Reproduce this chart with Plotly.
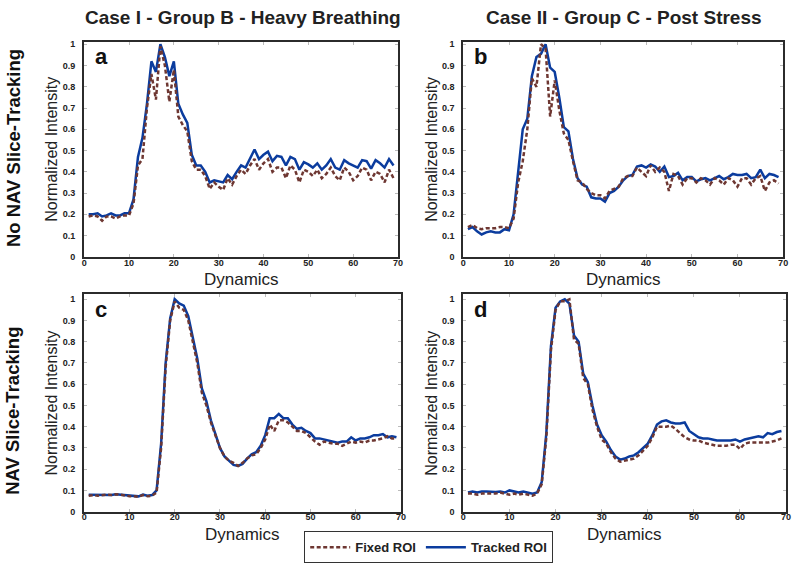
import plotly.graph_objects as go

# dynamics index 1..69
dyn = list(range(1, 70))

# panel a - Case I, no NAV
a_tracked = [0.20, 0.20, 0.205, 0.19, 0.195, 0.205, 0.195, 0.195, 0.205, 0.205,
             0.27, 0.47, 0.56, 0.72, 0.92, 0.87, 1.0, 0.94, 0.85, 0.92,
             0.72, 0.67, 0.63, 0.48, 0.43, 0.43, 0.40, 0.35, 0.36, 0.355,
             0.35, 0.385, 0.365, 0.40, 0.43, 0.42, 0.46, 0.505, 0.46, 0.48,
             0.495, 0.45, 0.475, 0.47, 0.43, 0.47, 0.46, 0.41, 0.445, 0.435,
             0.42, 0.44, 0.41, 0.43, 0.46, 0.42, 0.41, 0.455, 0.44, 0.43,
             0.42, 0.455, 0.45, 0.415, 0.455, 0.44, 0.42, 0.46, 0.43]
a_fixed = [0.19, 0.195, 0.19, 0.17, 0.19, 0.19, 0.18, 0.19, 0.195, 0.195,
           0.25, 0.43, 0.46, 0.70, 0.86, 0.74, 0.99, 0.90, 0.73, 0.88,
           0.66, 0.62, 0.59, 0.45, 0.41, 0.41, 0.38, 0.32, 0.35, 0.33,
           0.315, 0.37, 0.34, 0.38, 0.41, 0.39, 0.43, 0.46, 0.41, 0.44,
           0.46, 0.40, 0.42, 0.42, 0.37, 0.43, 0.41, 0.35, 0.41, 0.40,
           0.38, 0.41, 0.37, 0.39, 0.42, 0.38, 0.36, 0.42, 0.40, 0.36,
           0.38, 0.42, 0.41, 0.36, 0.40, 0.39, 0.35, 0.41, 0.37]

# panel b - Case II, no NAV
b_tracked = [0.13, 0.14, 0.12, 0.105, 0.115, 0.12, 0.115, 0.115, 0.13, 0.125,
             0.20, 0.40, 0.60, 0.65, 0.85, 0.94, 0.955, 1.0, 0.89, 0.87,
             0.75, 0.61, 0.59, 0.46, 0.37, 0.34, 0.33, 0.28, 0.275, 0.275,
             0.26, 0.30, 0.31, 0.33, 0.36, 0.38, 0.385, 0.425, 0.43, 0.42,
             0.435, 0.425, 0.40, 0.425, 0.375, 0.38, 0.395, 0.36, 0.375, 0.375,
             0.355, 0.365, 0.37, 0.36, 0.37, 0.38, 0.365, 0.375, 0.39, 0.385,
             0.385, 0.39, 0.37, 0.375, 0.41, 0.37, 0.39, 0.385, 0.375]
b_fixed = [0.14, 0.15, 0.135, 0.13, 0.135, 0.135, 0.135, 0.14, 0.14, 0.135,
           0.18, 0.35, 0.45, 0.60, 0.84, 0.80, 1.0, 0.98, 0.66, 0.83,
           0.69, 0.58, 0.55, 0.45, 0.36, 0.35, 0.32, 0.30, 0.29, 0.29,
           0.275, 0.31, 0.32, 0.33, 0.37, 0.38, 0.38, 0.42, 0.40, 0.38,
           0.43, 0.40, 0.42, 0.40, 0.31, 0.39, 0.38, 0.34, 0.37, 0.37,
           0.35, 0.37, 0.36, 0.34, 0.37, 0.36, 0.34, 0.37, 0.36, 0.33,
           0.37, 0.37, 0.34, 0.37, 0.38, 0.31, 0.35, 0.36, 0.345]

# panel c - Case I, NAV
c_tracked = [0.08, 0.08, 0.078, 0.08, 0.08, 0.078, 0.082, 0.08, 0.075, 0.075,
             0.073, 0.072, 0.08, 0.075, 0.078, 0.10, 0.32, 0.70, 0.91, 1.0,
             0.98, 0.97, 0.92, 0.82, 0.72, 0.58, 0.52, 0.43, 0.36, 0.30,
             0.26, 0.24, 0.22, 0.215, 0.225, 0.25, 0.27, 0.28, 0.31, 0.36,
             0.44, 0.44, 0.46, 0.44, 0.44, 0.41, 0.39, 0.395, 0.38, 0.37,
             0.345, 0.345, 0.34, 0.335, 0.33, 0.325, 0.33, 0.33, 0.35, 0.335,
             0.345, 0.345, 0.35, 0.36, 0.36, 0.365, 0.35, 0.355, 0.35]
c_fixed = [0.075, 0.078, 0.075, 0.078, 0.08, 0.078, 0.082, 0.08, 0.075, 0.073,
           0.073, 0.07, 0.078, 0.073, 0.075, 0.09, 0.30, 0.68, 0.90, 0.99,
           0.96, 0.95, 0.90, 0.80, 0.70, 0.56, 0.50, 0.42, 0.36, 0.30,
           0.26, 0.24, 0.23, 0.215, 0.23, 0.25, 0.265, 0.27, 0.30, 0.34,
           0.41, 0.38, 0.43, 0.43, 0.42, 0.40, 0.38, 0.38, 0.37, 0.35,
           0.33, 0.315, 0.33, 0.325, 0.32, 0.32, 0.31, 0.32, 0.33, 0.325,
           0.33, 0.325, 0.335, 0.335, 0.34, 0.345, 0.355, 0.345, 0.345]

# panel d - Case II, NAV
d_tracked = [0.09, 0.095, 0.09, 0.095, 0.095, 0.093, 0.093, 0.095, 0.09, 0.10,
             0.095, 0.09, 0.095, 0.09, 0.085, 0.09, 0.14, 0.37, 0.78, 0.96,
             0.99, 1.0, 0.98, 0.83, 0.80, 0.65, 0.61, 0.50, 0.41, 0.36,
             0.33, 0.29, 0.26, 0.245, 0.25, 0.26, 0.265, 0.28, 0.30, 0.32,
             0.36, 0.41, 0.425, 0.43, 0.42, 0.415, 0.415, 0.42, 0.38, 0.365,
             0.35, 0.345, 0.345, 0.34, 0.335, 0.335, 0.335, 0.335, 0.34, 0.33,
             0.34, 0.345, 0.35, 0.355, 0.35, 0.37, 0.365, 0.375, 0.38]
d_fixed = [0.085, 0.085, 0.08, 0.085, 0.085, 0.085, 0.085, 0.09, 0.085, 0.08,
           0.085, 0.08, 0.085, 0.08, 0.075, 0.085, 0.13, 0.35, 0.76, 0.95,
           0.99, 0.99, 1.0, 0.81, 0.79, 0.63, 0.60, 0.48, 0.40, 0.34,
           0.32, 0.28, 0.25, 0.235, 0.24, 0.245, 0.25, 0.265, 0.29, 0.31,
           0.35, 0.40, 0.40, 0.40, 0.405, 0.39, 0.37, 0.35, 0.34, 0.335,
           0.335, 0.325, 0.32, 0.315, 0.31, 0.31, 0.31, 0.315, 0.315, 0.295,
           0.32, 0.325, 0.325, 0.325, 0.325, 0.325, 0.33, 0.335, 0.345]

col_titles = ["Case I - Group B - Heavy Breathing", "Case II - Group C - Post Stress"]
row_titles = ["No NAV Slice-Tracking", "NAV Slice-Tracking"]
letters = ["a", "b", "c", "d"]
x_ticks = [0, 10, 20, 30, 40, 50, 60, 70]
y_ticks = [0, 0.1, 0.2, 0.3, 0.4, 0.5, 0.6, 0.7, 0.8, 0.9, 1]
y_ticktext = ["0", "0.1", "0.2", "0.3", "0.4", "0.5", "0.6", "0.7", "0.8", "0.9", "1"]

W, H = 800, 570
BLUE = "#0b3c9e"
BROWN = "#6e3732"
FONT = "Liberation Sans, Arial, sans-serif"

# pixel boxes of each panel: left, right, top, bottom, y top value
boxes = [(82, 399, 40, 258, 1.013),
         (465, 788, 40, 258, 1.013),
         (82, 402, 296, 516, 1.023),
         (465, 791, 296, 516, 1.023)]
panels = [(a_fixed, a_tracked), (b_fixed, b_tracked),
          (c_fixed, c_tracked), (d_fixed, d_tracked)]

fig = go.Figure()
layout = dict(width=W, height=H, margin=dict(l=0, r=0, t=0, b=0),
              paper_bgcolor="white", plot_bgcolor="white",
              font=dict(family=FONT, color="#222"))
annotations = []

for i, (fixed, tracked) in enumerate(panels):
    n = "" if i == 0 else str(i + 1)
    l, r, t, b, ytop = boxes[i]
    fig.add_trace(go.Scatter(x=dyn, y=tracked, mode="lines", name="Tracked ROI",
                             line=dict(color=BLUE, width=2.5),
                             xaxis="x" + n, yaxis="y" + n,
                             showlegend=(i == 0), legendrank=2))
    fig.add_trace(go.Scatter(x=dyn, y=fixed, mode="lines", name="Fixed ROI",
                             line=dict(color=BROWN, width=2.5, dash="4px,2.5px"),
                             xaxis="x" + n, yaxis="y" + n,
                             showlegend=(i == 0), legendrank=1))
    common = dict(showline=True, linecolor="#2b2b2b", linewidth=2, mirror="ticks",
                  ticks="inside", ticklen=3, tickcolor="#bbb", showgrid=False,
                  zeroline=False,
                  tickfont=dict(size=9, family=FONT, weight="bold", color="#222"))
    layout["xaxis" + n] = dict(common, domain=[l / W, r / W], anchor="y" + n,
                               range=[0, 70], tickvals=x_ticks, ticklabelstandoff=-4)
    layout["yaxis" + n] = dict(common, domain=[1 - b / H, 1 - t / H], anchor="x" + n,
                               range=[0, ytop], tickvals=y_ticks, ticktext=y_ticktext,
                               ticklabelstandoff=5)
    # panel letter
    annotations.append(dict(text="<b>" + letters[i] + "</b>", xref="paper", yref="paper",
                            x=(l + 9) / W, y=1 - (t + 1) / H, xanchor="left", yanchor="top",
                            showarrow=False, font=dict(size=22, family=FONT, color="#111")))
    # axis titles
    annotations.append(dict(text="Dynamics", xref="paper", yref="paper",
                            x=(l + r) / 2 / W, y=1 - (b + 23) / H, xanchor="center",
                            yanchor="middle", showarrow=False,
                            font=dict(size=17, family=FONT, color="#222")))
    annotations.append(dict(text="Normalized Intensity", xref="paper", yref="paper",
                            x=(l - 33) / W, y=1 - (t + b) / 2 / H, xanchor="center",
                            yanchor="middle", textangle=-90, showarrow=False,
                            font=dict(size=16, family=FONT, color="#222")))

for j, txt in enumerate(col_titles):
    cx = [242, 627][j]
    annotations.append(dict(text="<b>" + txt + "</b>", xref="paper", yref="paper",
                            x=cx / W, y=1 - 16 / H, xanchor="center", yanchor="middle",
                            showarrow=False, font=dict(size=19, family=FONT, color="#222")))

for j, txt in enumerate(row_titles):
    cy = [148, 414][j]
    annotations.append(dict(text="<b>" + txt + "</b>", xref="paper", yref="paper",
                            x=10 / W, y=1 - cy / H, xanchor="center", yanchor="middle",
                            textangle=-90, showarrow=False,
                            font=dict(size=18.5, family=FONT, color="#111")))

layout["annotations"] = annotations
layout["legend"] = dict(orientation="h", x=430 / W, y=1 - 552 / H, xanchor="center",
                        yanchor="middle", bordercolor="#333", borderwidth=1,
                        bgcolor="white", itemwidth=40,
                        font=dict(size=13, family=FONT, weight="bold", color="#222"))
fig.update_layout(**layout)

# drop the default page margin so the figure sits at the window origin
fig.write_html("out.html", config={"displayModeBar": False},
               post_script="document.body.style.margin='0';")
